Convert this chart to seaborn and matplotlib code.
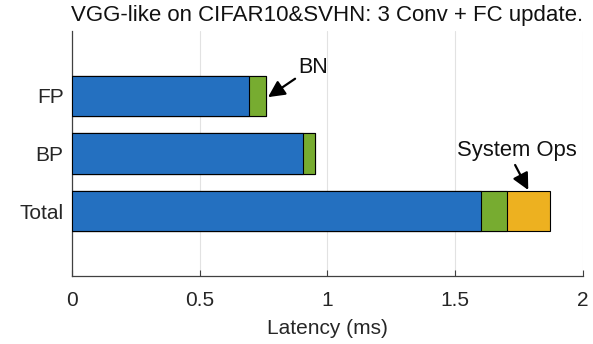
import matplotlib
matplotlib.use("Agg")
import matplotlib.pyplot as plt
import numpy as np
import pandas as pd
import seaborn as sns

# Latency breakdown (ms) per phase
categories = ["FP", "BP", "Total"]
compute_ms = [0.694, 0.904, 1.602]
bn_ms = [0.066, 0.047, 0.101]
sysops_ms = [0.0, 0.0, 0.169]

x_ticks = [0, 0.5, 1, 1.5, 2]
x_tick_labels = ["0", "0.5", "1", "1.5", "2"]

title = "VGG-like on CIFAR10&SVHN: 3 Conv + FC update."
xlabel = "Latency (ms)"

c_compute = "#2470C0"
c_bn = "#77AC30"
c_sys = "#EDB120"

sns.set_theme(style="white")
plt.rcParams["font.family"] = ["Liberation Sans", "DejaVu Sans"]

df = pd.DataFrame({
    "phase": categories,
    "compute": compute_ms,
    "bn": bn_ms,
    "sys": sysops_ms,
})
df["end_compute"] = df["compute"]
df["end_bn"] = df["end_compute"] + df["bn"]
df["end_sys"] = df["end_bn"] + df["sys"]

fig, ax = plt.subplots(figsize=(5.93, 3.44), dpi=100)
fig.subplots_adjust(left=0.1214, right=0.9823, bottom=0.1977, top=0.9099)

# stacked horizontal bars: draw the longest cumulative segment first
for col, color in [("end_sys", c_sys), ("end_bn", c_bn), ("end_compute", c_compute)]:
    sns.barplot(data=df, x=col, y="phase", order=categories, orient="h",
                color=color, saturation=1, width=0.7, edgecolor="black",
                linewidth=0.8, ax=ax, zorder=3)

ax.set_xlim(0, 2)
ax.set_ylim(3.13, -1.13)
ax.set_xticks(x_ticks)
ax.set_xticklabels(x_tick_labels)
ax.set_xlabel(xlabel, fontsize=15, labelpad=6, color="#262626")
ax.set_ylabel("")
ax.set_title(title, fontsize=16, pad=7, color="#111111")

ax.grid(axis="x", color="#e2e2e2", linewidth=0.8, zorder=0)
ax.set_axisbelow(True)
for side in ["top", "right"]:
    ax.spines[side].set_visible(False)
for side in ["left", "bottom"]:
    ax.spines[side].set_color("#404040")
    ax.spines[side].set_linewidth(0.9)
ax.tick_params(axis="both", direction="in", length=4, width=0.8,
               bottom=True, left=True,
               color="#404040", labelsize=15, labelcolor="#262626")
ax.tick_params(axis="x", pad=11)
ax.tick_params(axis="y", pad=6)

arrow = dict(arrowstyle="-|>,head_length=0.5,head_width=0.25", color="black",
             lw=1.6, mutation_scale=20, shrinkA=0, shrinkB=0)

# BN callout on the FP bar
fp_end = df.loc[0, "end_bn"]
ax.annotate("", xy=(fp_end + 0.008, 0.02), xytext=(0.874, -0.3),
            arrowprops=arrow)
ax.text(0.944, -0.5, "BN", fontsize=15.5, ha="center", va="center",
        color="#111111")

# System Ops callout on the Total bar
tot_sys_mid = df.loc[2, "end_bn"] + df.loc[2, "sys"] / 2
ax.annotate("", xy=(tot_sys_mid, 1.635), xytext=(1.736, 1.2),
            arrowprops=arrow)
ax.text(1.743, 0.94, "System Ops", fontsize=15.8, ha="center", va="center",
        color="#111111")

fig.savefig("out.png", dpi=100)
